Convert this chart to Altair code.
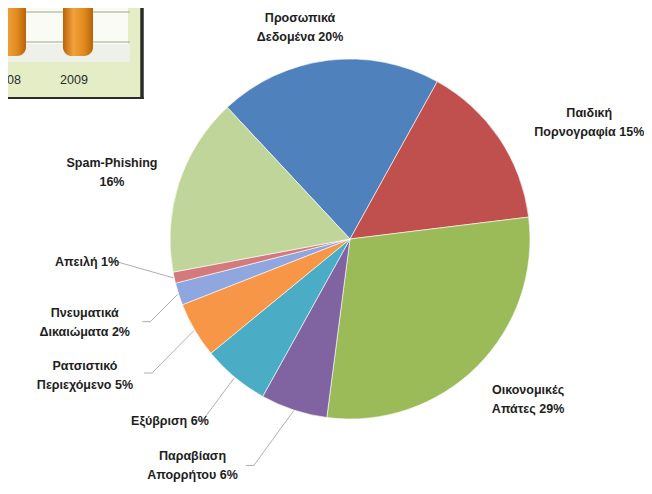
import math
import altair as alt
import pandas as pd

# ---- data ----
categories = ["Προσωπικά Δεδομένα", "Παιδική Πορνογραφία", "Οικονομικές Απάτες",
              "Παραβίαση Απορρήτου", "Εξύβριση", "Ρατσιστικό Περιεχόμενο",
              "Πνευματικά Δικαιώματα", "Απειλή", "Spam-Phishing"]
values = [20, 15, 29, 6, 6, 5, 2, 1, 16]
labels = ["Προσωπικά\nΔεδομένα 20%", "Παιδική\nΠορνογραφία 15%", "Οικονομικές\nΑπάτες 29%",
          "Παραβίαση\nΑπορρήτου 6%", "Εξύβριση 6%", "Ρατσιστικό\nΠεριεχόμενο 5%",
          "Πνευματικά\nΔικαιώματα 2%", "Απειλή 1%", "Spam-Phishing\n16%"]
colors = ["#4F81BD", "#C0504D", "#9BBB59", "#8064A2", "#4BACC6", "#F79646",
          "#8FA7DE", "#D57A7C", "#BFD59A"]

# cropped inset bar chart in the top-left corner (only its lower part is visible)
inset_years = ["2008", "2009"]
inset_values = [1.0, 1.0]   # bars run past the crop; only their lower ends are visible

# ---- layout (style) ----
CX, CY, R = 342, 231, 180
START_DEG = -43
LINE_H = 19
label_r = [217, 266, 240, 276, 256, 298, 278, 264, 247]
label_nudge = [-6.3, 8.1, -3.1, 16.6, 4.9, 3.2, 0.4, 7.4, -2.7]
leader = [False, False, False, True, True, True, True, True, False]
leader_r = [0, 0, 0, 246, 233, 239, 216, 234, 0]
leader_nudge = [0, 0, 0, 4.8, -0.7, -3.7, -4.7, 6.8, 0]

total = sum(values)
df = pd.DataFrame({"category": categories, "value": values,
                   "order": list(range(len(values)))})

rows, lrows = [], []
cum = 0
for i, v in enumerate(values):
    mid = START_DEG + (cum + v / 2) / total * 360
    cum += v
    a = math.radians(mid + label_nudge[i])
    nlines = labels[i].count("\n") + 1
    rows.append({"label": labels[i],
                 "lx": CX + label_r[i] * math.sin(a),
                 "ly": CY - label_r[i] * math.cos(a) - (nlines - 1) * LINE_H / 2})
    if leader[i]:
        a0 = math.radians(mid)
        a1 = math.radians(mid + leader_nudge[i])
        x2 = CX + leader_r[i] * math.sin(a1)
        y2 = CY - leader_r[i] * math.cos(a1)
        lrows.append({"x1": CX + (R + 1) * math.sin(a0), "y1": CY - (R + 1) * math.cos(a0),
                      "x2": x2, "y2": y2})
        lrows.append({"x1": x2, "y1": y2, "x2": x2 - 8, "y2": y2})
lab_df = pd.DataFrame(rows)
lead_df = pd.DataFrame(lrows)

start = math.radians(START_DEG) + 2 * math.pi
pie = alt.Chart(df).mark_arc(outerRadius=R, stroke="#ffffff", strokeWidth=0.6).encode(
    theta=alt.Theta("value:Q", stack=True,
                    scale=alt.Scale(domain=[0, total], range=[start, start + 2 * math.pi])),
    order=alt.Order("order:Q"),
    color=alt.Color("category:N", scale=alt.Scale(domain=categories, range=colors), legend=None),
    x=alt.value(CX), y=alt.value(CY),
)

leaders = alt.Chart(lead_df).mark_rule(color="#9a9a9a", strokeWidth=0.8).encode(
    x=alt.X("x1:Q", scale=None), y=alt.Y("y1:Q", scale=None),
    x2="x2:Q", y2="y2:Q",
)

texts = alt.Chart(lab_df).mark_text(
    font="Liberation Sans", fontSize=12.5, fontWeight="bold", lineBreak="\n",
    lineHeight=LINE_H, align="center", baseline="middle", color="#1e1e1e",
).encode(
    x=alt.X("lx:Q", scale=None), y=alt.Y("ly:Q", scale=None), text="label:N",
)

# ---- cropped inset (decoration in the top-left corner) ----
inset_df = pd.DataFrame({"year": inset_years, "v": inset_values})
xs = alt.Scale(domain=inset_years, range=[-30.5, 103.5], paddingInner=0.55, paddingOuter=0.275)
inset_bg = alt.Chart(inset_df).mark_rect(color="#E4EDC6").encode(
    x=alt.value(0), x2=alt.value(133), y=alt.value(0), y2=alt.value(89))
inset_panel = alt.Chart(inset_df).mark_rect(color="#FAFBF4").encode(
    x=alt.value(0), x2=alt.value(120), y=alt.value(0), y2=alt.value(44))
inset_floor = alt.Chart(inset_df).mark_rect(color="#EEF0EA").encode(
    x=alt.value(0), x2=alt.value(122), y=alt.value(36), y2=alt.value(54))
inset_grid = alt.Chart(pd.DataFrame({"g": [4, 34]})).mark_rule(
    color="#9FA88C", strokeWidth=1.2).encode(
    x=alt.value(0), x2=alt.value(122), y=alt.Y("g:Q", scale=None))
cyl = alt.Gradient(gradient="linear", x1=0, x2=1, y1=0, y2=0, stops=[
    alt.GradientStop(color="#B8620A", offset=0),
    alt.GradientStop(color="#F2A23C", offset=0.35),
    alt.GradientStop(color="#E08A1E", offset=0.7),
    alt.GradientStop(color="#B8620A", offset=1),
])
inset_bars = alt.Chart(inset_df).mark_bar(
    color=cyl, cornerRadiusBottomLeft=9, cornerRadiusBottomRight=9).encode(
    x=alt.X("year:N", scale=xs, axis=None),
    y=alt.Y("v:Q", scale=alt.Scale(domain=[0, 1], range=[48, 0]), axis=None),
)
inset_text = alt.Chart(inset_df).mark_text(
    font="Liberation Sans", fontSize=12.5, color="#2a2a2a", dx=-4).encode(
    x=alt.X("year:N", scale=xs, axis=None), y=alt.value(72), text="year:N")
inset_border = alt.Chart(inset_df).mark_rule(color="#2b2b2b", strokeWidth=3).encode(
    x=alt.value(134), y=alt.value(0), y2=alt.value(91))
inset_border2 = alt.Chart(inset_df).mark_rule(color="#2b2b2b", strokeWidth=2).encode(
    x=alt.value(0), x2=alt.value(135.5), y=alt.value(90))

chart = alt.layer(
    inset_bg, inset_panel, inset_floor, inset_grid, inset_bars, inset_text,
    inset_border, inset_border2,
    pie, leaders, texts,
).resolve_scale(x="independent", y="independent").properties(
    width=636, height=478, autosize=alt.AutoSizeParams(type="none"), padding=0,
    background="#ffffff",
).configure_view(stroke=None)

chart.save("out.html", embed_options={"renderer": "svg", "actions": False})
